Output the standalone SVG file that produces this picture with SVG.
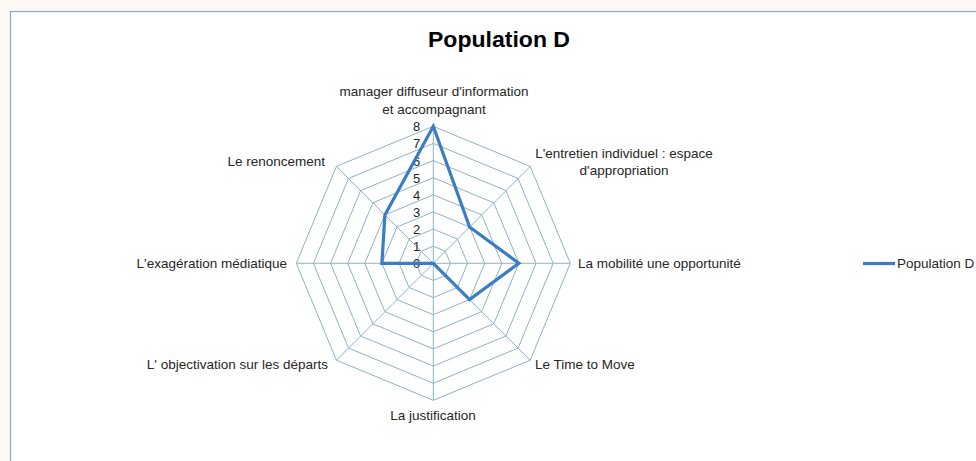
<svg xmlns="http://www.w3.org/2000/svg" width="976" height="461" viewBox="0 0 976 461">
<style>
.lbl{font-family:"Liberation Sans","Open Sans",sans-serif;font-size:13.5px;fill:#262626}
.num{font-family:"Liberation Sans","Open Sans",sans-serif;font-size:13px;fill:#262626;text-anchor:end}
.grid{fill:none;stroke:#8db3c7;stroke-width:1}
.series{fill:none;stroke:#3a7cc5;stroke-width:3.2;stroke-linejoin:miter}
</style>
<rect x="0" y="0" width="976" height="461" fill="#fff9f5"/>
<rect x="10.5" y="11.5" width="1000" height="500" fill="#ffffff" stroke="#8aa9bd" stroke-width="1.2"/>
<text x="499" y="47" text-anchor="middle" style="font-family:'Liberation Sans','Open Sans',sans-serif;font-size:22px;font-weight:bold;fill:#000" textLength="142" lengthAdjust="spacingAndGlyphs">Population D</text>
<g id="grid" transform="translate(433.3,263.3)">
<polygon class="grid" points="0,-17.1 12.1,-12.1 17.1,0 12.1,12.1 0,17.1 -12.1,12.1 -17.1,0 -12.1,-12.1"/>
<polygon class="grid" points="0,-34.25 24.2,-24.2 34.25,0 24.2,24.2 0,34.25 -24.2,24.2 -34.25,0 -24.2,-24.2"/>
<polygon class="grid" points="0,-51.4 36.3,-36.3 51.4,0 36.3,36.3 0,51.4 -36.3,36.3 -51.4,0 -36.3,-36.3"/>
<polygon class="grid" points="0,-68.5 48.4,-48.4 68.5,0 48.4,48.4 0,68.5 -48.4,48.4 -68.5,0 -48.4,-48.4"/>
<polygon class="grid" points="0,-85.6 60.5,-60.5 85.6,0 60.5,60.5 0,85.6 -60.5,60.5 -85.6,0 -60.5,-60.5"/>
<polygon class="grid" points="0,-102.75 72.7,-72.7 102.75,0 72.7,72.7 0,102.75 -72.7,72.7 -102.75,0 -72.7,-72.7"/>
<polygon class="grid" points="0,-119.9 84.8,-84.8 119.9,0 84.8,84.8 0,119.9 -84.8,84.8 -119.9,0 -84.8,-84.8"/>
<polygon class="grid" points="0,-137 96.9,-96.9 137,0 96.9,96.9 0,137 -96.9,96.9 -137,0 -96.9,-96.9"/>
<path class="grid" d="M0,0V-137M0,0L96.9,-96.9M0,0H137M0,0L96.9,96.9M0,0V137M0,0L-96.9,96.9M0,0H-137M0,0L-96.9,-96.9"/>
</g>
<g id="axis-values" transform="translate(433.3,263.3)">
<text class="num" x="-13" y="5">0</text>
<text class="num" x="-13" y="-12.1">1</text>
<text class="num" x="-13" y="-29.25">2</text>
<text class="num" x="-13" y="-46.4">3</text>
<text class="num" x="-13" y="-63.5">4</text>
<text class="num" x="-13" y="-80.6">5</text>
<text class="num" x="-13" y="-97.75">6</text>
<text class="num" x="-13" y="-114.9">7</text>
<text class="num" x="-13" y="-132">8</text>
</g>
<g id="series-population-d" transform="translate(433.3,263.3)">
<polygon class="series" points="0,-137 36.3,-36.3 85.6,0 36.3,36.3 0,0 0,0 -51.4,0 -48.4,-48.4"/>
</g>
<g id="label-manager"><text class="lbl" x="434" y="96" text-anchor="middle">manager diffuseur d'information</text><text class="lbl" x="434" y="114" text-anchor="middle">et accompagnant</text></g>
<g id="label-entretien"><text class="lbl" x="624" y="158" text-anchor="middle">L'entretien individuel : espace</text><text class="lbl" x="624" y="175" text-anchor="middle">d'appropriation</text></g>
<g id="label-mobilite"><text class="lbl" x="578" y="268">La mobilité une opportunité</text></g>
<g id="label-time"><text class="lbl" x="535" y="369">Le Time to Move</text></g>
<g id="label-justification"><text class="lbl" x="433" y="420" text-anchor="middle">La justification</text></g>
<g id="label-objectivation"><text class="lbl" x="328" y="369" text-anchor="end">L' objectivation sur les départs</text></g>
<g id="label-exageration"><text class="lbl" x="287" y="268" text-anchor="end">L'exagération médiatique</text></g>
<g id="label-renoncement"><text class="lbl" x="325" y="166" text-anchor="end">Le renoncement</text></g>
<g id="legend"><line x1="863" y1="263.5" x2="895" y2="263.5" stroke="#3a7cc5" stroke-width="3.2"/><text class="lbl" x="897" y="268">Population D</text></g>
</svg>
